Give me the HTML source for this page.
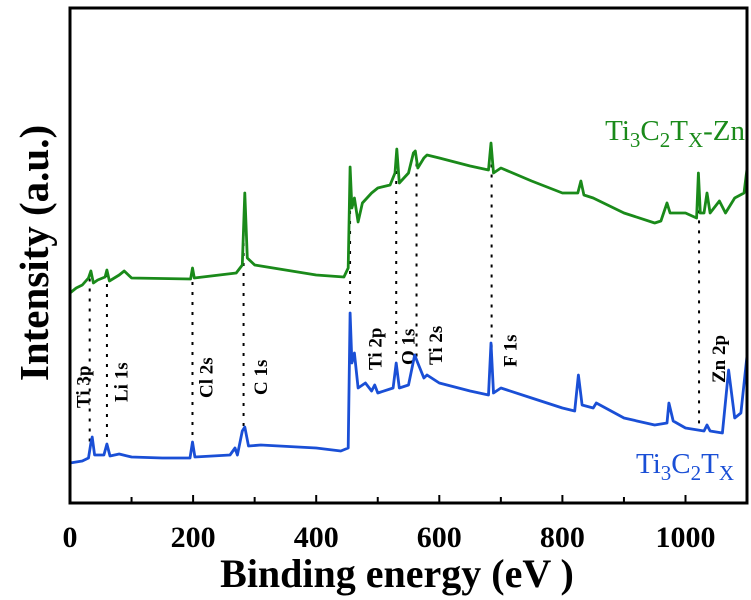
<!DOCTYPE html>
<html><head><meta charset="utf-8"><style>
body{margin:0;background:#fff}
svg{display:block;font-family:"Liberation Serif",serif}
</style></head><body>
<svg width="751" height="600" viewBox="0 0 751 600">
<g id="plot"></g>
<rect x="70" y="8" width="677" height="495" fill="none" stroke="#000" stroke-width="3"/>
<g id="ticks"></g>
<text x="397" y="587" font-size="40" font-weight="bold" text-anchor="middle">Binding energy (eV )</text>
<text transform="translate(48,253) rotate(-90)" font-size="41" font-weight="bold" text-anchor="middle">Intensity (a.u.)</text>
<text x="745" y="140" font-size="29" fill="#1a8a1a" text-anchor="end">Ti<tspan font-size="21" dy="7">3</tspan><tspan dy="-7">C</tspan><tspan font-size="21" dy="7">2</tspan><tspan dy="-7">T</tspan><tspan font-size="21" dy="7">X</tspan><tspan dy="-7">-Zn</tspan></text>
<text x="734" y="473" font-size="29" fill="#1a4fd6" text-anchor="end">Ti<tspan font-size="21" dy="7">3</tspan><tspan dy="-7">C</tspan><tspan font-size="21" dy="7">2</tspan><tspan dy="-7">T</tspan><tspan font-size="21" dy="7">X</tspan></text>
</svg>
<script>
const blueX=[0,20,30,34,36,40,55,60,65,80,100,150,195,199,203,260,268,272,280,284,290,310,400,440,452,455,458,462,468,480,490,495,500,525,530,535,550,560,565,575,580,600,650,680,684,688,700,750,800,820,826,832,850,855,900,950,970,973,980,1000,1030,1035,1040,1060,1070,1080,1090,1100];
const blueY=[40,42,45,60,66,48,48,59,47,49,46,45,45,61,46,48,55,48,72,76,57,58,55,52,55,190,140,150,115,120,112,118,110,115,140,115,118,148,140,125,128,120,112,108,160,110,115,105,95,92,128,98,95,100,85,78,80,100,82,75,72,78,72,70,133,85,90,148];
const greenX=[0,10,20,30,34,38,45,57,60,64,80,88,100,196,199,202,270,280,284,288,300,400,445,452,455,458,462,468,475,490,500,520,528,531,535,550,558,561,565,575,580,600,650,680,684,688,700,750,800,825,830,835,850,900,950,960,970,975,1000,1018,1021,1024,1030,1035,1040,1055,1065,1080,1095,1100];
const greenY=[210,215,218,225,232,220,223,226,233,222,228,232,225,224,235,225,230,238,310,245,238,228,226,235,336,295,305,281,300,310,315,318,330,354,320,330,350,352,335,345,348,345,337,333,360,330,335,322,310,310,322,308,305,290,280,282,300,290,290,285,330,290,290,310,290,302,290,305,310,335];
const markers=[32,60,199,282,455,530,563,685,1022];
const markerLabels=["Ti 3p","Li 1s","Cl 2s","C 1s","Ti 2p","O 1s","Ti 2s","F 1s","Zn 2p"];
const labelEnergy=[20,82,220,309,495,548,593,714,1053];
const labelBottom=[408,402,398,395,370,365,365,367,383];
const xTicks=[0,200,400,600,800,1000];
const NS="http://www.w3.org/2000/svg";
const sx=v=>70+v*0.6155, sy=v=>503-v;
function interp(xs,ys,x){for(let i=1;i<xs.length;i++){if(x<=xs[i]){const t=(x-xs[i-1])/(xs[i]-xs[i-1]);return ys[i-1]+t*(ys[i]-ys[i-1]);}}return ys[ys.length-1];}
const plot=document.getElementById('plot'),ticks=document.getElementById('ticks');
function line(xs,ys,c,name){const p=document.createElementNS(NS,'path');
p.setAttribute('d',xs.map((x,i)=>(i?'L':'M')+sx(x).toFixed(1)+','+sy(ys[i]).toFixed(1)).join(''));
p.setAttribute('fill','none');p.setAttribute('stroke',c);p.setAttribute('stroke-width','2.8');p.setAttribute('stroke-linejoin','round');


plot.appendChild(p);}
markers.forEach((m,i)=>{const l=document.createElementNS(NS,'line');
const x=sx(m);l.setAttribute('x1',x);l.setAttribute('x2',x);
l.setAttribute('y1',sy(interp(greenX,greenY,m))+4);l.setAttribute('y2',sy(interp(blueX,blueY,m))-2);
l.setAttribute('stroke','#000');l.setAttribute('stroke-width','2');l.setAttribute('stroke-dasharray','3,7');


plot.appendChild(l);
const t=document.createElementNS(NS,'text');
t.setAttribute('transform','translate('+(sx(labelEnergy[i])+7)+','+labelBottom[i]+') rotate(-90)');
t.setAttribute('font-size','19');t.setAttribute('font-weight','bold');t.textContent=markerLabels[i];


plot.appendChild(t);});
line(greenX,greenY,'#1a8a1a','series-ti3c2tx-zn');
line(blueX,blueY,'#1a4fd6','series-ti3c2tx');
for(let v=100;v<1100;v+=100){const l=document.createElementNS(NS,'line');
l.setAttribute('x1',sx(v));l.setAttribute('x2',sx(v));l.setAttribute('y1',503);l.setAttribute('y2',v%200?497:495);
l.setAttribute('stroke','#000');l.setAttribute('stroke-width','2');


ticks.appendChild(l);}
xTicks.forEach(v=>{const t=document.createElementNS(NS,'text');
t.setAttribute('x',sx(v));t.setAttribute('y',547);t.setAttribute('text-anchor','middle');
t.setAttribute('font-size','30');t.setAttribute('font-weight','bold');t.textContent=v;


ticks.appendChild(t);});
</script>
</body></html>
